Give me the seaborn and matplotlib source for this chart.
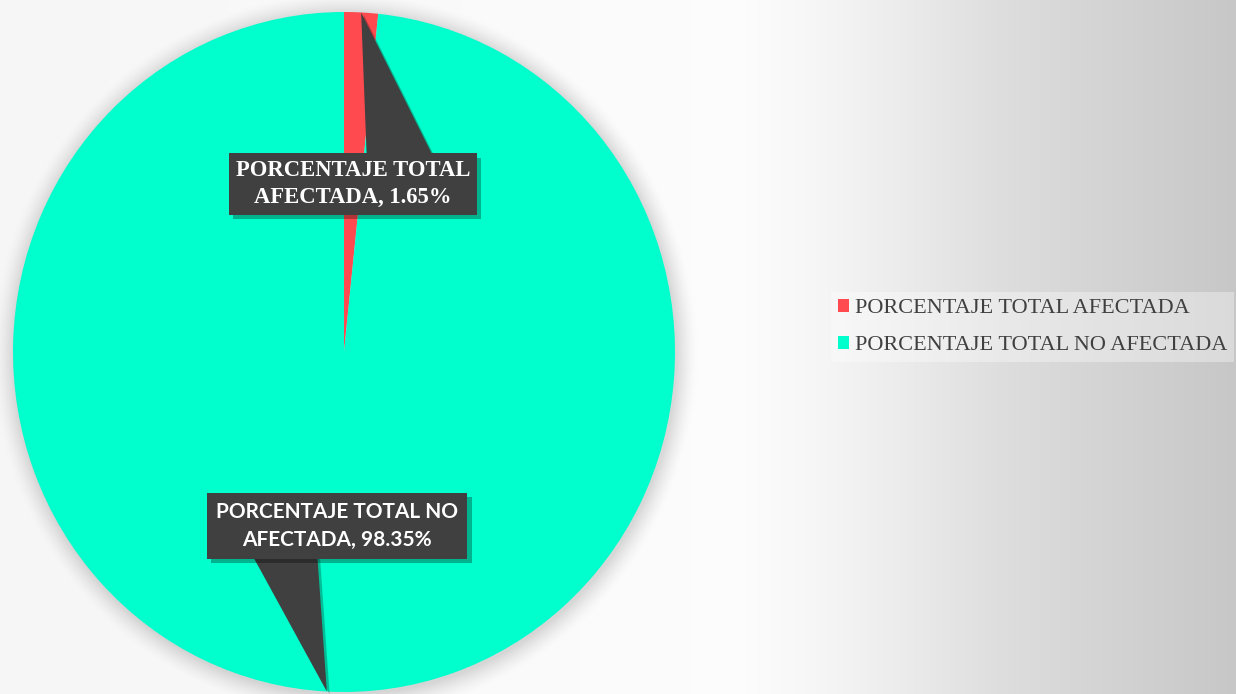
"""Pie chart: porcentaje total afectada vs no afectada."""

import numpy as np
import matplotlib

matplotlib.use("Agg")
import matplotlib.pyplot as plt
import matplotlib.patheffects as pe
from matplotlib.patches import Patch
import seaborn as sns

categories = ["PORCENTAJE TOTAL AFECTADA", "PORCENTAJE TOTAL NO AFECTADA"]
values = [1.65, 98.35]
label_lines = [
    "PORCENTAJE TOTAL\nAFECTADA, {:.2f}%",
    "PORCENTAJE TOTAL NO\nAFECTADA, {:.2f}%",
]
colors = ["#FF4B4F", "#00FFCC"]

W, H = 1236, 694
pie_box = (13, 12, 675, 692)  # left, top, right, bottom in px

sns.set_theme(style="white")

fig = plt.figure(figsize=(W / 100, H / 100), dpi=100)

# slide background: near white on the left, fading to gray on the right,
# plus a soft glow-shadow around the pie
px, py = np.meshgrid(np.arange(W), np.arange(H))
shade = np.interp(px, [0, 600, 740, 830, 900, 1000, 1236],
                  [0.965, 0.985, 0.99, 0.96, 0.925, 0.87, 0.78])
pcx, pcy = (pie_box[0] + pie_box[2]) / 2, (pie_box[1] + pie_box[3]) / 2
prx, pry = (pie_box[2] - pie_box[0]) / 2, (pie_box[3] - pie_box[1]) / 2
r = np.hypot((px - pcx - 1) / prx, (py - pcy - 2) / pry)
shade = shade - 0.14 * np.clip(1 - (r - 1) / 0.065, 0, 1) ** 1.5
rgb = np.repeat(shade[:, :, None], 3, axis=2)
fig.figimage(np.clip(rgb, 0, 1), xo=0, yo=0, origin="upper", zorder=-10)

# pie axes (the Excel pie is slightly taller than wide)
pax = fig.add_axes([pie_box[0] / W, 1 - pie_box[3] / H,
                    (pie_box[2] - pie_box[0]) / W, (pie_box[3] - pie_box[1]) / H])
pax.patch.set_alpha(0)
wedges, _ = pax.pie(
    values,
    colors=colors,
    startangle=90,
    counterclock=False,
    radius=1,
    wedgeprops={"linewidth": 0, "zorder": 2},
)
pax.set_xlim(-1, 1)
pax.set_ylim(-1, 1)
pax.set_aspect("auto")
pax.axis("off")

# overlay axes in pixel units for the callouts and legend
ov = fig.add_axes([0, 0, 1, 1])
ov.patch.set_alpha(0)
ov.set_xlim(0, W)
ov.set_ylim(0, H)
ov.axis("off")

label_pos = [(353, H - 184), (337, H - 526)]
base_off = [((14, 20), (84, 20)), ((-87, -25), (-20, -25))]
fonts = [dict(family="Liberation Serif", size=16.3), dict(family="Lato", size=15)]
box_pad = [0.3, 0.45]
spacing = [1.35, 1.45]

to_ov = pax.transData + ov.transData.inverted()
for w, val, tmpl, (cx, cy), (b1, b2), ft, pad, ls in zip(
        wedges, values, label_lines, label_pos, base_off, fonts, box_pad, spacing):
    mid = np.deg2rad((w.theta1 + w.theta2) / 2)
    tip = to_ov.transform((np.cos(mid), np.sin(mid)))
    ov.fill([tip[0], cx + b1[0], cx + b2[0]], [tip[1], cy + b1[1], cy + b2[1]],
            color="#404040", zorder=4, lw=0,
            path_effects=[pe.SimplePatchShadow(offset=(2, -2), shadow_rgbFace="black", alpha=0.25), pe.Normal()])
    t = ov.text(cx, cy, tmpl.format(val), ha="center", va="center", color="white",
                fontweight="bold", linespacing=ls, zorder=5,
                bbox={"boxstyle": f"square,pad={pad}", "fc": "#404040", "ec": "none"}, **ft)
    t.get_bbox_patch().set_path_effects(
        [pe.SimplePatchShadow(offset=(3, -3), shadow_rgbFace="black", alpha=0.3), pe.Normal()])

handles = [Patch(facecolor=c, edgecolor="none") for c in colors]
leg = ov.legend(
    handles,
    categories,
    loc="center left",
    bbox_to_anchor=(831 / W, 1 - 327 / H),
    frameon=True,
    facecolor="white",
    framealpha=0.35,
    edgecolor="none",
    fancybox=False,
    handlelength=0.5,
    handleheight=0.5,
    handletextpad=0.3,
    labelspacing=0.8,
    borderpad=0.3,
    borderaxespad=0,
    prop={"family": "Liberation Serif", "size": 16},
)
for txt in leg.get_texts():
    txt.set_color("#404040")

fig.savefig("out.png", dpi=100)
